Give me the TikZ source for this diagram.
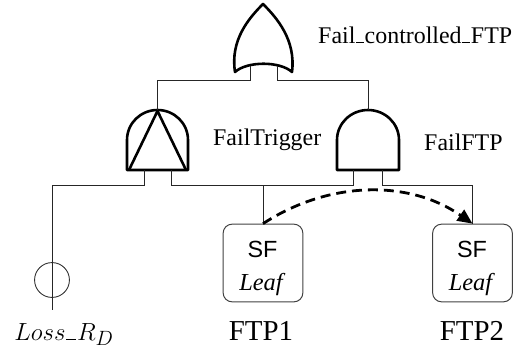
\documentclass[tikz,border=0pt]{standalone}
\usepackage{fontspec}
\setmainfont{Liberation Serif}
\newfontfamily\boxsans{Liberation Sans}
\usetikzlibrary{arrows.meta}
% low underscore sitting on the baseline
\newcommand\fcUnderbar{\kern0.03em\rule{0.33em}{0.045em}\kern0.03em}
\tikzset{
  gate/.style={line width=2.6pt, line join=round},
  wire/.style={line width=0.9pt, draw=black!85},
  leafbox/.style={draw=black!75, line width=1pt, rounded corners=9pt,
    minimum width=80pt, minimum height=78pt, inner sep=0pt},
  gatelabel/.style={anchor=base west, inner sep=0pt, font=\fontsize{24}{28}\selectfont},
  leaflabel/.style={anchor=base, inner sep=0pt, font=\fontsize{29}{33}\selectfont},
  losstext/.style={anchor=base, inner sep=0pt, font=\fontsize{30}{34}\selectfont},
  sftext/.style={anchor=base, inner sep=0pt, font=\boxsans\fontsize{23.5}{28}\selectfont},
  leaftext/.style={anchor=base, inner sep=0pt, font=\itshape\fontsize{24.5}{28}\selectfont},
  depend/.style={line width=2.8pt, dash pattern=on 10pt off 6pt,
    -{Triangle[length=15pt,width=13pt]}},
}
\begin{document}
\begin{tikzpicture}[x=1bp,y=-1bp]
\useasboundingbox (0,0) rectangle (515,349);

% bus levels
\coordinate (orbus) at (0,80);
\coordinate (leafbus) at (0,185);

% OR gate: Fail_controlled_FTP
\draw[gate] (235,72) .. controls (230,40) and (249,18) .. (263,4)
  .. controls (277,18) and (296,40) .. (292,72)
  .. controls (280,61) and (247,61) .. cycle;
\coordinate (or-in1) at (250,66);
\coordinate (or-in2) at (277,66);
\node[gatelabel] (orlabel) at (318,43) {Fail\fcUnderbar controlled\fcUnderbar FTP};

% priority AND gate: FailTrigger
\draw[gate] (127,170) -- (127,140) .. controls (127,123.2) and (140.7,110) .. (157.5,110)
  .. controls (174.3,110) and (188,123.2) .. (188,140) -- (188,170) -- cycle;
\draw[gate] (129,170) -- (157.5,111) -- (186,170);
\coordinate (ft-out) at (157.5,110);
\coordinate (ft-in1) at (144,170);
\coordinate (ft-in2) at (171,170);
\node[gatelabel] (ftlabel) at (213,145) {FailTrigger};

% AND gate: FailFTP
\draw[gate] (337,170) -- (337,140) .. controls (337,123.2) and (351,110) .. (368,110)
  .. controls (385,110) and (399,123.2) .. (399,140) -- (399,170) -- cycle;
\coordinate (ff-out) at (368,110);
\coordinate (ff-in1) at (353,170);
\coordinate (ff-in2) at (382,170);
\node[gatelabel] (fflabel) at (424,150) {FailFTP};

% basic event Loss_R_D
\node[draw=black!80, line width=0.9pt, circle, minimum size=35pt, inner sep=0pt] (loss) at (52,280) {};
\coordinate (loss-end) at (52,310);
\node[losstext] (losslabel) at (64,340) {$Loss\mbox{\fcUnderbar}R_D$};

% SF leaves
\node[leafbox] (sf1) at (263,263) {};
\node[sftext] (sf1a) at (262.5,257) {SF};
\node[leaftext] (sf1b) at (261,290) {Leaf};
\node[leaflabel] (ftp1) at (261,340) {FTP1};

\node[leafbox] (sf2) at (472.5,263) {};
\node[sftext] (sf2a) at (472,257) {SF};
\node[leaftext] (sf2b) at (470.5,290) {Leaf};
\node[leaflabel] (ftp2) at (472,340) {FTP2};

% wiring
\draw[wire] (or-in1) -- (or-in1 |- orbus) -| (ft-out);
\draw[wire] (or-in2) -- (or-in2 |- orbus) -| (ff-out);
\draw[wire] (ft-in1) -- (ft-in1 |- leafbus) -| (loss-end);
\draw[wire] (ft-in2) -- (ft-in2 |- leafbus) -| (sf1.north);
\draw[wire] (ff-in1) -- (ff-in1 |- leafbus) -| (sf1.north);
\draw[wire] (ff-in2) -- (ff-in2 |- leafbus) -| (sf2.north);

% functional dependency
\draw[depend] (sf1.north) .. controls (330,180) and (410,180) .. (sf2.north);
\end{tikzpicture}
\end{document}
